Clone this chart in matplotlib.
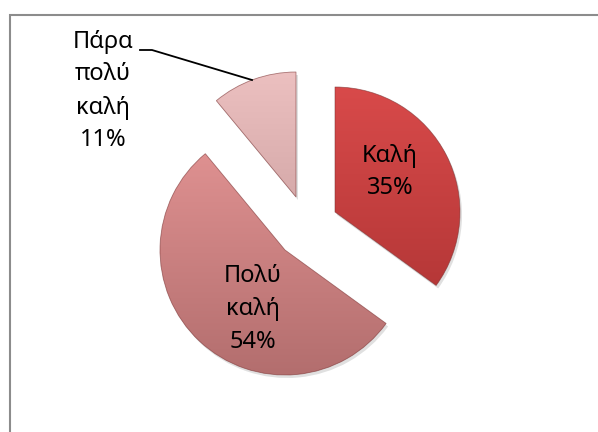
import matplotlib
matplotlib.use("Agg")
import matplotlib.pyplot as plt
from matplotlib.colors import LinearSegmentedColormap
import numpy as np

labels = ["Καλή\n35%", "Πολύ\nκαλή\n54%", "Πάρα\nπολύ\nκαλή\n11%"]
values = [35, 54, 11]
top_colors = ["#d84a4a", "#e49595", "#ecc0c0"]
bottom_colors = ["#ad3333", "#b36e6e", "#c09494"]

# slice centres (pixels, y up), excel explodes them unevenly
centres = [(335, 220), (285, 182), (296, 235)]
R = 125

plt.rcParams['font.family'] = ['Noto Sans', 'DejaVu Sans']

fig = plt.figure(figsize=(5.98, 4.32), dpi=100)
ax = fig.add_axes([0, 0, 1, 1])

# chart frame
ax.add_patch(plt.Rectangle((9.5, -10), 620, 427, fill=False,
                           edgecolor='#8c8c8c', linewidth=1.5))

wedges, _ = ax.pie(values, startangle=90, counterclock=False, radius=R,
                   center=(0, 0), frame=True)

for w, c, top, bot in zip(wedges, centres, top_colors, bottom_colors):
    w.set_center(c)
    w.set_facecolor('none')
    w.set_edgecolor('#7a3030')
    w.set_linewidth(0.6)
    w.set_alpha(0.6)
    # soft shadow
    sh = plt.matplotlib.patches.Wedge((c[0] + 2, c[1] - 3), R, w.theta1, w.theta2,
                                      facecolor='#000000', alpha=0.12, zorder=0.5,
                                      edgecolor='none')
    ax.add_patch(sh)
    cmap = LinearSegmentedColormap.from_list('g', [bot, top])
    grad = np.linspace(0, 1, 256).reshape(-1, 1)
    im = ax.imshow(grad, cmap=cmap, origin='lower', aspect='auto',
                   extent=(c[0] - R, c[0] + R, c[1] - R, c[1] + R), zorder=1)
    im.set_clip_path(w)
    w.set_zorder(2)

ax.set_xlim(0, 598)
ax.set_ylim(0, 432)
ax.axis('off')

fs = 17
ax.text(390, 260, labels[0], ha='center', va='center', fontsize=fs,
        linespacing=1.5, zorder=3)
ax.text(253, 123, labels[1], ha='center', va='center', fontsize=fs,
        linespacing=1.5, zorder=3)
ax.text(103, 341, labels[2], ha='center', va='center', fontsize=fs,
        linespacing=1.5, zorder=3)

# leader line for the small slice
ax.plot([140, 152, 252], [382, 382, 352], color='black', linewidth=1.3, zorder=3)

fig.savefig("out.png", dpi=100)
